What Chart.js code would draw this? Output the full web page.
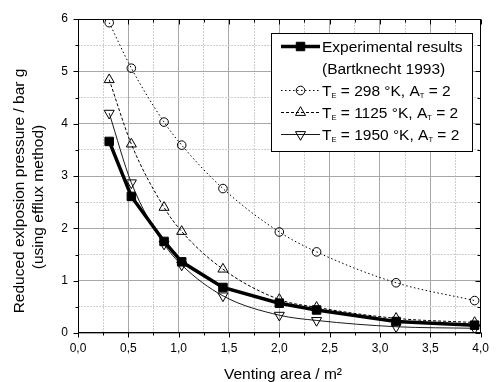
<!DOCTYPE html>
<html>
<head>
<meta charset="utf-8">
<script src="https://cdn.jsdelivr.net/npm/chart.js@4.4.0/dist/chart.umd.min.js"></script>
<style>
  html, body { margin: 0; padding: 0; background: #fff; }
  #wrap { width: 497px; height: 382px; }
</style>
</head>
<body>
<div id="wrap"><canvas id="chart"></canvas></div>
<script>
// venting area (m2) and reduced explosion pressure (bar g)
const ventArea = [0.31, 0.53, 0.855, 1.03, 1.44, 2.0, 2.37, 3.16, 3.94];
const experimental = [3.66, 2.61, 1.75, 1.36, 0.87, 0.57, 0.44, 0.22, 0.15];
const te298 = [5.93, 5.06, 4.03, 3.59, 2.76, 1.93, 1.55, 0.96, 0.62];
const te1125 = [4.84, 3.61, 2.40, 1.94, 1.22, 0.64, 0.49, 0.28, 0.20];
const te1950 = [4.20, 2.87, 1.70, 1.30, 0.71, 0.34, 0.24, 0.12, 0.09];

const xTickLabels = ["0,0", "0,5", "1,0", "1,5", "2,0", "2,5", "3,0", "3,5", "4,0"];
const yTickLabels = ["0", "1", "2", "3", "4", "5", "6"];

const FONT = "'Liberation Sans', Arial, sans-serif";

function pts(ys) {
  return ventArea.map((x, i) => ({x: x, y: ys[i]}));
}

const styles = [
  {borderWidth: 3.5, dash: [], pointStyle: 'rect', radius: 6, fill: '#000', rotation: 0},
  {borderWidth: 1, dash: [1.5, 2.5], pointStyle: 'circle', radius: 4.3, fill: 'rgba(0,0,0,0)', rotation: 0},
  {borderWidth: 1, dash: [3, 2], pointStyle: 'triangle', radius: 5.8, fill: 'rgba(0,0,0,0)', rotation: 0},
  {borderWidth: 0.9, dash: [], pointStyle: 'triangle', radius: 5.8, fill: 'rgba(0,0,0,0)', rotation: 180}
];

function makeSet(label, ys, s, smooth) {
  return {
    label: label,
    data: pts(ys),
    borderColor: '#000',
    borderWidth: s.borderWidth,
    borderDash: s.dash,
    pointStyle: s.pointStyle,
    pointRadius: s.radius,
    pointRotation: s.rotation,
    pointBackgroundColor: s.fill,
    pointBorderColor: '#000',
    pointBorderWidth: 1,
    cubicInterpolationMode: smooth ? 'monotone' : 'default',
    tension: 0,
    fill: false
  };
}

// frame with ticks on all four sides
const framePlugin = {
  id: 'frame',
  afterDatasetsDraw(chart) {
    const {ctx, chartArea: a, scales} = chart;
    const x = scales.x, y = scales.y;
    ctx.save();
    ctx.strokeStyle = '#000';
    ctx.lineWidth = 1;
    const L = Math.round(a.left) + 0.5, R = Math.round(a.right) - 0.5;
    const T = Math.round(a.top) + 0.5, B = Math.round(a.bottom) - 0.5;
    ctx.strokeRect(L, T, R - L, B - T);
    ctx.beginPath();
    x.ticks.forEach((t, i) => {
      const px = Math.round(x.getPixelForValue(t.value)) + 0.5;
      const len = i % 2 ? 3 : 5;
      ctx.moveTo(px, B); ctx.lineTo(px, B + len);
      ctx.moveTo(px, T); ctx.lineTo(px, T + len);
    });
    y.ticks.forEach((t, i) => {
      const py = Math.round(y.getPixelForValue(t.value)) + 0.5;
      const len = i % 2 ? 3 : 5;
      ctx.moveTo(L, py); ctx.lineTo(L - len, py);
      ctx.moveTo(R, py); ctx.lineTo(R - len, py);
    });
    ctx.stroke();
    ctx.restore();
  },
  afterDraw(chart) {
    const ctx = chart.ctx;
    ctx.save();
    ctx.fillStyle = '#000';
    // axis titles
    ctx.font = '15.5px ' + FONT;
    ctx.textAlign = 'center';
    ctx.textBaseline = 'alphabetic';
    ctx.fillText('Venting area / m²', 283, 379);
    ctx.save();
    ctx.translate(23.5, 191);
    ctx.rotate(-Math.PI / 2);
    ctx.fillText('Reduced exlposion pressure / bar g', 0, 0);
    ctx.restore();
    ctx.save();
    ctx.translate(42.5, 197);
    ctx.rotate(-Math.PI / 2);
    ctx.fillText('(using efflux method)', 0, 0);
    ctx.restore();

    // legend
    const bx = 271.5, by = 33.5, bw = 201, bh = 118;
    ctx.fillStyle = '#fff';
    ctx.fillRect(bx, by, bw, bh);
    ctx.strokeStyle = '#000';
    ctx.lineWidth = 1;
    ctx.strokeRect(bx, by, bw, bh);

    const rows = [
      {style: 0, parts: [['Experimental results', 0]]},
      {style: -1, parts: [['(Bartknecht 1993)', 0]]},
      {style: 1, parts: [['T', 0], ['E', 1], [' = 298 °K, A', 0], ['T', 1], [' = 2', 0]]},
      {style: 2, parts: [['T', 0], ['E', 1], [' = 1125 °K, A', 0], ['T', 1], [' = 2', 0]]},
      {style: 3, parts: [['T', 0], ['E', 1], [' = 1950 °K, A', 0], ['T', 1], [' = 2', 0]]}
    ];
    ctx.textAlign = 'left';
    rows.forEach((row, i) => {
      const base = 52 + 22 * i;
      const ly = base - 5.5;
      if (row.style >= 0) {
        const s = styles[row.style];
        ctx.save();
        ctx.strokeStyle = '#000';
        ctx.lineWidth = s.borderWidth;
        ctx.setLineDash(s.dash);
        ctx.beginPath();
        ctx.moveTo(281, ly);
        ctx.lineTo(320, ly);
        ctx.stroke();
        ctx.setLineDash([]);
        ctx.fillStyle = s.fill;
        ctx.strokeStyle = '#000';
        ctx.lineWidth = 1;
        Chart.helpers.drawPoint(ctx, {
          pointStyle: s.pointStyle, radius: s.radius, rotation: s.rotation, borderWidth: 1
        }, 300.5, ly);
        ctx.restore();
      }
      let tx = 322;
      ctx.fillStyle = '#000';
      row.parts.forEach(p => {
        if (p[1]) {
          ctx.font = '7.5px ' + FONT;
          ctx.fillText(p[0], tx, base + 2);
        } else {
          ctx.font = '15.5px ' + FONT;
          ctx.fillText(p[0], tx, base);
        }
        tx += ctx.measureText(p[0]).width;
      });
    });
    ctx.restore();
  }
};

new Chart(document.getElementById('chart'), {
  type: 'line',
  data: {
    datasets: [
      makeSet('Experimental results (Bartknecht 1993)', experimental, styles[0], false),
      makeSet('TE = 298 °K, AT = 2', te298, styles[1], true),
      makeSet('TE = 1125 °K, AT = 2', te1125, styles[2], true),
      makeSet('TE = 1950 °K, AT = 2', te1950, styles[3], true)
    ]
  },
  options: {
    responsive: true,
    maintainAspectRatio: false,
    animation: false,
    layout: {padding: {left: 0, right: 9, top: 19, bottom: 0}},
    plugins: {
      legend: {display: false},
      tooltip: {enabled: false}
    },
    scales: {
      x: {
        type: 'linear',
        min: 0,
        max: 4,
        afterFit: (scale) => { scale.height = 49; },
        ticks: {
          stepSize: 0.25,
          autoSkip: false,
          maxRotation: 0,
          padding: 8,
          color: '#000',
          font: {family: FONT, size: 12},
          callback: (v, i) => (i % 2 === 0 ? xTickLabels[i / 2] : '')
        },
        grid: {
          drawTicks: false,
          color: (c) => (c.index % 2 === 0 ? '#a8a8a8' : '#cfcfcf'),
          lineWidth: 1
        },
        border: {
          display: false,
          dash: (c) => (c.tick && c.index % 2 === 1 ? [2, 1] : [])
        }
      },
      y: {
        type: 'linear',
        min: 0,
        max: 6,
        afterFit: (scale) => { scale.width = 78; },
        ticks: {
          stepSize: 0.5,
          autoSkip: false,
          padding: 10,
          color: '#000',
          font: {family: FONT, size: 12},
          callback: (v, i) => (i % 2 === 0 ? yTickLabels[i / 2] : '')
        },
        grid: {
          drawTicks: false,
          color: (c) => (c.index % 2 === 0 ? '#a8a8a8' : '#cfcfcf'),
          lineWidth: 1
        },
        border: {
          display: false,
          dash: (c) => (c.tick && c.index % 2 === 1 ? [2, 1] : [])
        }
      }
    }
  },
  plugins: [framePlugin]
});
</script>
</body>
</html>
